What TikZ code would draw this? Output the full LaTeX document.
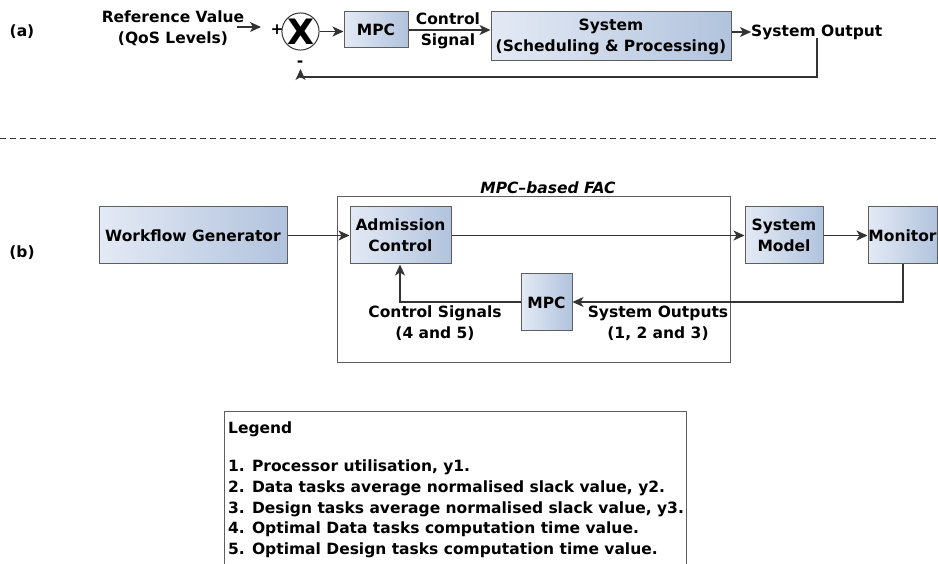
\documentclass[tikz,border=0pt]{standalone}
\usepackage{fontspec}
\setmainfont{DejaVu Sans}
\usetikzlibrary{arrows.meta}
\definecolor{boxL}{HTML}{E4EAF5}
\definecolor{boxR}{HTML}{B1C3DD}
\definecolor{boxedge}{HTML}{5E5E5E}
\definecolor{linec}{HTML}{333333}
\tikzset{
  box/.style={draw=boxedge, line width=1pt, left color=boxL, right color=boxR, inner sep=0pt, align=center, font=\lbl},
  conn/.style={draw=linec, line width=1.1pt, -{Stealth[length=11pt,width=10pt,inset=3pt]}},
  txt/.style={align=center, inner sep=0pt, font=\lbl},
}
\newcommand{\lbl}{\fontsize{15.5}{21}\selectfont\bfseries}
\begin{document}
\begin{tikzpicture}[x=1pt,y=-1pt]
\useasboundingbox (0,0) rectangle (938,564);
% ---------- (a)
\node[txt] (la) at (22,32) {(a)};
\node[txt] (ref) at (173,28) {Reference Value\\(QoS Levels)};
\node[draw=linec, line width=1pt, circle, fill=white, minimum size=35pt, inner sep=0pt, font=\fontsize{35}{35}\selectfont\bfseries] (sum) at (300.5,31.5) {X};
\node[txt] (plus) at (277,30) {+};
\node[txt] (minus) at (300,64) {-};
\coordinate (refs) at (237,27);
\coordinate (refe) at (261,27);
\draw[conn] (refs) -- (refe);
\node[box, minimum width=64pt, minimum height=36pt] (mpca) at (376,30) {MPC};
\node[box, minimum width=240pt, minimum height=49pt] (sys) at (611,36.5) {System\\(Scheduling \& Processing)};
\node[txt] (cs) at (448,31) {Control\\Signal};
\draw[conn] (sum.east) -- (mpca.west |- sum.east);
\draw[conn] (mpca.east) -- (sys.west |- mpca.east);
\node[txt, anchor=west] (so) at (751,32) {System Output};
\draw[conn] (sys.east |- so.west) -- (so.west);
\coordinate (fb1) at (817,38);
\coordinate (fb2) at (817,77);
\coordinate (fb3) at (300.5,77);
\coordinate (fb4) at (300.5,69);
\draw[conn] (fb1) -- (fb2) -- (fb3) -- (fb4);
% dashed separator
\coordinate (d1) at (0,139);
\coordinate (d2) at (938,139);
\draw[draw=linec, line width=1pt, dash pattern=on 6pt off 4pt] (d1) -- (d2);
% ---------- (b)
\node[txt] (lb) at (22,253) {(b)};
\node[draw=boxedge, line width=1pt, minimum width=393pt, minimum height=166pt, inner sep=0pt] (fac) at (533.5,280) {};
\node[txt, font=\lbl\itshape, anchor=south] (factitle) at (548,194) {MPC\textendash based FAC};
\node[box, minimum width=188pt, minimum height=57pt] (wg) at (193,235.5) {Workflow Generator};
\node[box, minimum width=101pt, minimum height=57pt] (ac) at (400.5,235.5) {Admission\\Control};
\node[box, minimum width=78pt, minimum height=57pt] (sm) at (784,235.5) {System\\Model};
\node[box, minimum width=69pt, minimum height=57pt] (mon) at (902.5,235.5) {Monitor};
\node[box, minimum width=51pt, minimum height=57pt] (mpcb) at (546.5,302.5) {MPC};
\draw[conn] (wg.east) -- (ac.west);
\draw[conn] (ac.east) -- (sm.west);
\draw[conn] (sm.east) -- (mon.west);
\coordinate (m1) at (903,302);
\draw[conn] (mon.south -| m1) -- (m1) -- (mpcb.east |- m1);
\coordinate (c1) at (400,302);
\draw[conn] (mpcb.west |- c1) -- (c1) -- (ac.south -| c1);
\node[txt] (csl) at (435,323) {Control Signals\\(4 and 5)};
\node[txt] (sol) at (658,323) {System Outputs\\(1, 2 and 3)};
% ---------- legend
\node[draw=boxedge, line width=1pt, minimum width=462pt, minimum height=170pt, inner sep=0pt, anchor=north west] (leg) at (224,411) {};
\node[txt, anchor=west] (legh) at (228,429) {Legend};
\node[txt, anchor=north west, align=left, font=\fontsize{15.5}{20.6}\selectfont\bfseries] (legtxt) at (228,460) {1. Processor utilisation, y1.\\
2. Data tasks average normalised slack value, y2.\\
3. Design tasks average normalised slack value, y3.\\
4. Optimal Data tasks computation time value.\\
5. Optimal Design tasks computation time value.};
\end{tikzpicture}
\end{document}
